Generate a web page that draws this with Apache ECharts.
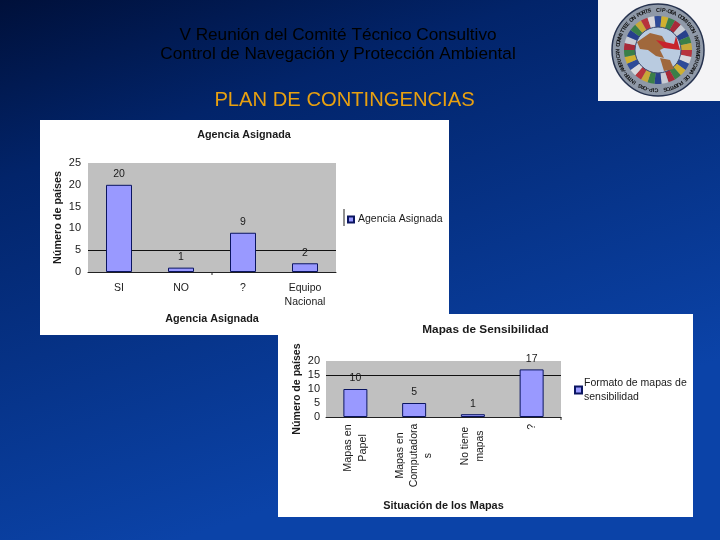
<!DOCTYPE html>
<html><head><meta charset="utf-8">
<style>html,body{margin:0;padding:0;background:#0a3a90}#c{width:720px;height:540px}</style>
<script src="https://cdn.jsdelivr.net/npm/echarts@6/dist/echarts.min.js"></script>
</head><body><div id="c"></div>
<script>
const slideTitle = ['V Reunión del Comité Técnico Consultivo','Control de Navegación y Protección Ambiental'];
const slideHeading = 'PLAN DE CONTINGENCIAS';
const agenciaCats = ['SI','NO','?','Equipo\nNacional'];
const agenciaVals = [20,1,9,2];
const mapasCats = ['Mapas en\nPapel','Mapas en\nComputadora\ns','No tiene\nmapas','?'];
const mapasVals = [10,5,1,17];
const ringText = 'CIP-OEA COMISION INTERAMERICANA DE PUERTOS  CIP-OAS INTER-AMERICAN COMMITTEE ON PORTS  ';
const flagColors = ['#b8343c','#d8d8dc','#2f4b98','#cfb030','#3a7f48','#a82a38','#c8ccd4','#27408c','#3a7f48','#c8a838'];

const FONT = '"Liberation Sans", Arial, sans-serif';
const txt = '#1a1a1a';
const chart = echarts.init(document.getElementById('c'), null, {renderer:'canvas'});

function panel(x,y,w,h,z){return {type:'rect',z:z,silent:true,shape:{x,y,width:w,height:h},style:{fill:'#fff'}};}
const logo = [];
const cx=658, cy=50;
logo.push({type:'rect',z:-8,shape:{x:598,y:0,width:122,height:101},style:{fill:'#f4f4f6'}});
logo.push({type:'circle',z:-8,shape:{cx,cy,r:46},style:{fill:'#8f99a8',stroke:'#26324e',lineWidth:1.5}});
flagColors.concat(flagColors,flagColors).forEach((c,i,a)=>{
  const s=i/a.length*Math.PI*2, e=(i+1)/a.length*Math.PI*2;
  logo.push({type:'sector',z:-8,shape:{cx,cy,r0:22,r:34,startAngle:s,endAngle:e},style:{fill:c}});
});
logo.push({type:'circle',z:-8,shape:{cx,cy,r:23},style:{fill:'#b9cbe0',stroke:'#3a4a70',lineWidth:1}});
logo.push({type:'polygon',z:-8,shape:{points:[[637,42],[650,33],[662,36],[668,46],[660,50],[664,58],[656,56],[648,50],[640,49]]},style:{fill:'#a0683c'}});
logo.push({type:'polygon',z:-8,shape:{points:[[660,58],[670,60],[674,69],[664,71]]},style:{fill:'#a0683c'}});
logo.push({type:'polygon',z:-8,shape:{points:[[656,40],[674,44],[676,36],[680,50],[664,48]]},style:{fill:'#c8242c'}});
Array.from(ringText).forEach((ch,i,a)=>{
  const t=i/a.length*Math.PI*2-Math.PI/2;
  logo.push({type:'text',z:-7,x:cx+40*Math.cos(t),y:cy+40*Math.sin(t),rotation:-(t+Math.PI/2),
    style:{text:ch,fontSize:5.5,fontFamily:FONT,fontWeight:'bold',fill:'#111',align:'center',verticalAlign:'middle'}});
});

const option = {
  animation:false,
  backgroundColor:{type:'linear',x:0,y:0,x2:0.25,y2:1,colorStops:[{offset:0,color:'#00103a'},{offset:0.3,color:'#02246a'},{offset:1,color:'#0b43a8'}]},
  textStyle:{fontFamily:FONT},
  title:[
    {text:slideTitle.join('\n'),left:338,top:26,padding:0,textAlign:'center',textStyle:{fontSize:17.2,fontWeight:'normal',color:'#000',lineHeight:19,fontFamily:FONT}},
    {text:slideHeading,left:344.5,top:90,padding:0,textAlign:'center',textStyle:{fontSize:20.2,fontWeight:'normal',color:'#e8a010',fontFamily:FONT}},
    {text:'Agencia Asignada',left:244,top:130,padding:0,textAlign:'center',textStyle:{fontSize:10.8,fontWeight:'bold',color:txt,fontFamily:FONT}},
    {text:'Mapas de Sensibilidad',left:485.5,top:324,padding:0,textAlign:'center',textStyle:{fontSize:11.8,fontWeight:'bold',color:txt,fontFamily:FONT}}
  ],
  legend:[
    {data:[{name:'Agencia Asignada',icon:'rect'}],left:347,top:214,itemWidth:6,itemHeight:6,itemGap:0,padding:0,
      textStyle:{fontSize:10.5,color:txt,fontFamily:FONT,padding:[0,0,0,-1]},selectedMode:false},
    {data:[{name:'Formato de mapas de\nsensibilidad',icon:'rect'}],left:574,top:376,itemWidth:7,itemHeight:7,itemGap:0,padding:0,
      textStyle:{fontSize:10.5,color:txt,fontFamily:FONT,lineHeight:14,padding:[0,0,0,-3]},selectedMode:false}
  ],
  grid:[
    {left:88,top:163,width:248,height:109,show:true,backgroundColor:'#c0c0c0',borderWidth:0,containLabel:false},
    {left:326,top:361,width:235,height:56,show:true,backgroundColor:'#c0c0c0',borderWidth:0,containLabel:false}
  ],
  xAxis:[
    {type:'category',gridIndex:0,data:agenciaCats,name:'Agencia Asignada',nameLocation:'middle',nameGap:42,
      nameTextStyle:{fontSize:10.8,fontWeight:'bold',color:txt,fontFamily:FONT},
      axisLine:{lineStyle:{color:'#222',width:1}},axisTick:{show:false},
      axisLabel:{color:txt,fontSize:10.5,margin:9,lineHeight:14,interval:0,fontFamily:FONT}},
    {type:'category',gridIndex:1,data:mapasCats,name:'Situación de los Mapas',nameLocation:'middle',nameGap:83,
      nameTextStyle:{fontSize:10.9,fontWeight:'bold',color:txt,fontFamily:FONT},
      axisLine:{lineStyle:{color:'#222',width:1}},axisTick:{show:false},
      axisLabel:{color:txt,fontSize:10.8,margin:7,rotate:90,interval:0,fontFamily:FONT,
        formatter:(v,i)=>v.split('\n').map(l=>'{b'+i+'|'+l+'}').join('\n'),
        rich:{b0:{width:48,align:'center',lineHeight:15,fontSize:10.8},b1:{width:63,align:'center',lineHeight:14,fontSize:10.5},
              b2:{width:44,align:'center',lineHeight:15,fontSize:10.3},b3:{align:'center',fontSize:10.5}}}}
  ],
  yAxis:[
    {type:'value',gridIndex:0,min:0,max:25,interval:5,name:'Número de países',nameLocation:'middle',nameGap:24,
      nameTextStyle:{fontSize:10.8,fontWeight:'bold',color:txt,fontFamily:FONT},
      axisLine:{show:false},axisTick:{show:false},
      axisLabel:{color:txt,fontSize:11,margin:7,fontFamily:FONT},
      splitLine:{show:true,lineStyle:{color:['rgba(0,0,0,0)','#111','rgba(0,0,0,0)','rgba(0,0,0,0)','rgba(0,0,0,0)','rgba(0,0,0,0)'],width:1}}},
    {type:'value',gridIndex:1,min:0,max:20,interval:5,name:'Número de países',nameLocation:'middle',nameGap:23,
      nameTextStyle:{fontSize:10.6,fontWeight:'bold',color:txt,fontFamily:FONT},
      axisLine:{show:false},axisTick:{show:false},
      axisLabel:{color:txt,fontSize:11,margin:6,fontFamily:FONT},
      splitLine:{show:true,lineStyle:{color:['rgba(0,0,0,0)','rgba(0,0,0,0)','rgba(0,0,0,0)','#111','rgba(0,0,0,0)'],width:1}}}
  ],
  series:[
    {type:'bar',name:'Agencia Asignada',xAxisIndex:0,yAxisIndex:0,data:agenciaVals,barWidth:26,
      itemStyle:{color:'#9999ff',borderColor:'#0a1560',borderWidth:1},
      label:{show:true,position:'top',distance:5,fontSize:10.5,color:txt,fontFamily:FONT}},
    {type:'bar',name:'Formato de mapas de\nsensibilidad',xAxisIndex:1,yAxisIndex:1,data:mapasVals,barWidth:24,
      itemStyle:{color:'#9999ff',borderColor:'#0a1560',borderWidth:1},
      label:{show:true,position:'top',distance:5,fontSize:10.5,color:txt,fontFamily:FONT}}
  ],
  graphic:{elements:[
    panel(40,120,409,215,-10),
    panel(278,314,415,203,-9),
    ...logo,
    {type:'line',z:5,shape:{x1:344,y1:209,x2:344,y2:226},style:{stroke:'#222',lineWidth:1}},
    {type:'line',z:5,shape:{x1:212,y1:272,x2:212,y2:275},style:{stroke:'#222',lineWidth:1}},
    {type:'line',z:5,shape:{x1:561,y1:417,x2:561,y2:420},style:{stroke:'#222',lineWidth:1}}
  ]}
};
chart.setOption(option);
</script></body></html>
